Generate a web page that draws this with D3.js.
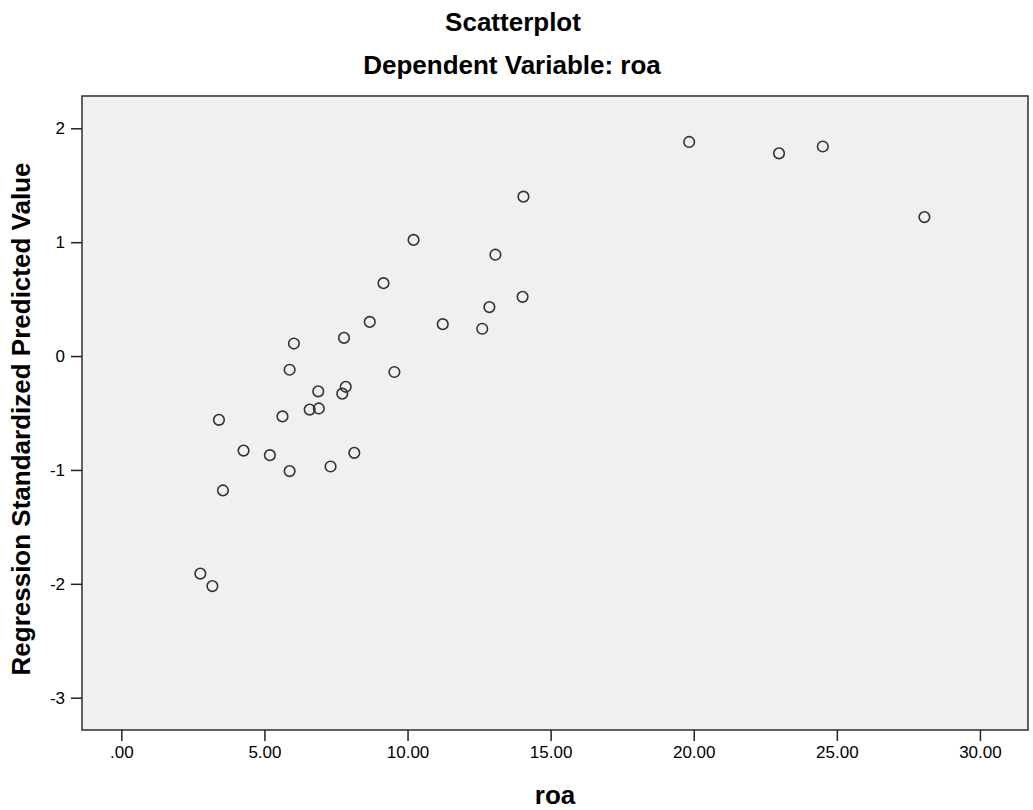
<!DOCTYPE html>
<html>
<head>
<meta charset="utf-8">
<script src="https://cdn.jsdelivr.net/npm/d3@7"></script>
<style>
  html, body { margin: 0; padding: 0; background: #ffffff; }
  svg { display: block; }
  text { font-family: Arial, "Liberation Sans", sans-serif; fill: #000; }
</style>
</head>
<body>
<div id="chart"></div>
<script>
// ---- data ----
const roa = [2.76, 3.18, 3.41, 3.55, 4.27, 5.19, 5.63, 5.88, 5.88, 6.03, 6.58, 6.90, 6.88, 7.31, 7.72, 7.84,
             7.78, 8.14, 8.68, 9.16, 9.54, 10.21, 11.23, 12.61, 12.86, 13.07, 14.02, 14.05, 19.84, 22.98, 24.51, 28.06];
const predicted = [-1.91, -2.02, -0.56, -1.18, -0.83, -0.87, -0.53, -1.01, -0.12, 0.11, -0.47, -0.46, -0.31, -0.97, -0.33, -0.27,
                   0.16, -0.85, 0.30, 0.64, -0.14, 1.02, 0.28, 0.24, 0.43, 0.89, 0.52, 1.40, 1.88, 1.78, 1.84, 1.22];
const xTicks = [0, 5, 10, 15, 20, 25, 30];
const yTicks = [-3, -2, -1, 0, 1, 2];
const xTickLabels = [".00", "5.00", "10.00", "15.00", "20.00", "25.00", "30.00"];
const yTickLabels = ["-3", "-2", "-1", "0", "1", "2"];
const titleText = "Scatterplot";
const subtitleText = "Dependent Variable: roa";
const xTitle = "roa";
const yTitle = "Regression Standardized Predicted Value";

// ---- layout ----
const W = 1033, H = 810;
const plot = { left: 82, top: 96, right: 1028, bottom: 730 };

const svg = d3.select("#chart").append("svg").attr("width", W).attr("height", H);

const x = d3.scaleLinear().domain([-1.375, 31.68]).range([plot.left, plot.right]);
const y = d3.scaleLinear().domain([-3.2836, 2.2836]).range([plot.bottom, plot.top]);

// plot background + frame
svg.append("rect")
  .attr("x", plot.left).attr("y", plot.top)
  .attr("width", plot.right - plot.left).attr("height", plot.bottom - plot.top)
  .attr("fill", "#f0f0f0").attr("stroke", "#3a3a3a").attr("stroke-width", 1.6);

// axes
const xAxis = d3.axisBottom(x).tickValues(xTicks)
  .tickFormat((d, i) => xTickLabels[i]).tickSize(11).tickSizeOuter(0).tickPadding(5);
const yAxis = d3.axisLeft(y).tickValues(yTicks)
  .tickFormat((d, i) => yTickLabels[i]).tickSize(11).tickSizeOuter(0).tickPadding(6);

const gx = svg.append("g").attr("transform", `translate(0,${plot.bottom})`).call(xAxis);
const gy = svg.append("g").attr("transform", `translate(${plot.left},0)`).call(yAxis);
[gx, gy].forEach(g => {
  g.select(".domain").remove();
  g.selectAll(".tick line").attr("stroke", "#222").attr("stroke-width", 1.5);
  g.selectAll(".tick text").attr("font-size", 17).attr("fill", "#000")
    .style("font-family", "Arial, 'Liberation Sans', sans-serif");
});

// points
svg.append("g").selectAll("circle")
  .data(roa.map((v, i) => [v, predicted[i]]))
  .join("circle")
  .attr("cx", d => x(d[0])).attr("cy", d => y(d[1]))
  .attr("r", 5.3)
  .attr("fill", "none").attr("stroke", "#333").attr("stroke-width", 1.6);

// titles
svg.append("text").attr("x", 513).attr("y", 31).attr("text-anchor", "middle")
  .attr("font-size", 26).attr("font-weight", "bold").text(titleText);
svg.append("text").attr("x", 512).attr("y", 74).attr("text-anchor", "middle")
  .attr("font-size", 26).attr("font-weight", "bold").text(subtitleText);
svg.append("text").attr("x", (plot.left + plot.right) / 2).attr("y", 804).attr("text-anchor", "middle")
  .attr("font-size", 26).attr("font-weight", "bold").text(xTitle);
svg.append("text")
  .attr("transform", `translate(30,${(plot.top + plot.bottom) / 2 + 6}) rotate(-90)`)
  .attr("text-anchor", "middle")
  .attr("font-size", 26).attr("font-weight", "bold").text(yTitle);
</script>
</body>
</html>
